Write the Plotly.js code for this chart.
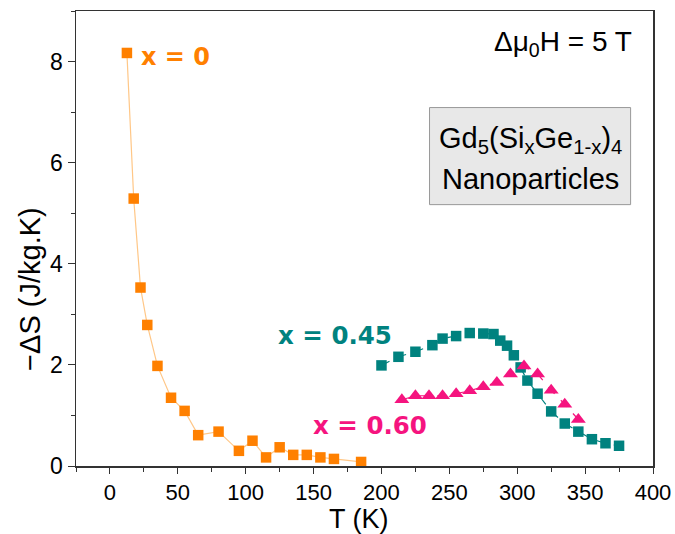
<!DOCTYPE html>
<html>
<head>
<meta charset="utf-8">
<script src="https://cdn.plot.ly/plotly-3.0.1.min.js"></script>
<style>html,body{margin:0;padding:0;background:#fff;}#chart{width:675px;height:534px;}</style>
</head>
<body>
<div id="chart"></div>
<script>
// x = 0
var T0 = [12.5, 17.5, 22.5, 27.5, 35, 45, 55, 65, 80, 95, 105, 115, 125, 135, 145, 155, 165, 185];
var S0 = [8.17, 5.29, 3.53, 2.79, 1.98, 1.35, 1.09, 0.61, 0.68, 0.30, 0.50, 0.17, 0.37, 0.22, 0.22, 0.17, 0.14, 0.08];
// x = 0.45
var T45 = [200, 212.5, 225, 237.5, 245, 255, 265, 275, 282.5, 287.5, 292.5, 297.5, 302.5, 307.5, 315, 325, 335, 345, 355, 365, 375];
var S45 = [1.99, 2.16, 2.26, 2.39, 2.52, 2.57, 2.63, 2.62, 2.61, 2.48, 2.38, 2.19, 1.95, 1.69, 1.43, 1.08, 0.84, 0.68, 0.53, 0.45, 0.40];
// x = 0.60
var T60 = [215, 225, 235, 245, 255, 265, 275, 285, 295, 305, 315, 325, 335, 345];
var S60 = [1.31, 1.39, 1.39, 1.39, 1.43, 1.49, 1.57, 1.65, 1.82, 1.98, 1.82, 1.50, 1.22, 0.92];

var xTicks = [0, 50, 100, 150, 200, 250, 300, 350, 400];
var yTicks = [0, 2, 4, 6, 8];

var cOrange = '#FF8000', cTeal = '#00827F', cPink = '#F5147F';

var traces = [
  {x: T0, y: S0, mode: 'lines+markers', type: 'scatter',
   line: {color: '#FFC787', width: 1.2},
   marker: {symbol: 'square', size: 10.5, color: cOrange}},
  {x: T45, y: S45, mode: 'lines+markers', type: 'scatter',
   line: {color: cTeal, width: 1.2, dash: 'dash'},
   marker: {symbol: 'square', size: 10.5, color: cTeal}},
  {x: T60, y: S60, mode: 'lines+markers', type: 'scatter',
   line: {color: cPink, width: 1.2, dash: 'dash'},
   marker: {symbol: 'triangle-up', size: 13, color: cPink}}
];

var sans = 'Liberation Sans, Arial, sans-serif';
var bold = 'DejaVu Sans, Verdana, sans-serif';

var layout = {
  width: 675, height: 534,
  margin: {l: 76, r: 22, t: 11, b: 68},
  paper_bgcolor: '#fff', plot_bgcolor: '#fff',
  showlegend: false,
  font: {family: sans, color: '#000'},
  xaxis: {
    range: [-25, 400], tickvals: xTicks, ticktext: xTicks.map(String),
    ticks: 'outside', ticklen: 6, tickwidth: 1, tickcolor: '#333',
    minor: {dtick: 25, tick0: 0, ticks: 'outside', ticklen: 4, tickwidth: 1, tickcolor: '#333'},
    showline: true, linecolor: '#333', linewidth: 1.5, mirror: true,
    showgrid: false, zeroline: false,
    tickfont: {size: 22, family: sans, color: '#000'}
  },
  yaxis: {
    range: [0, 9], tickvals: yTicks, ticktext: yTicks.map(String),
    ticks: 'outside', ticklen: 7, tickwidth: 1, tickcolor: '#333',
    minor: {dtick: 1, tick0: 0, ticks: 'outside', ticklen: 4, tickwidth: 1, tickcolor: '#333'},
    showline: true, linecolor: '#333', linewidth: 1.5, mirror: true,
    showgrid: false, zeroline: false,
    tickfont: {size: 23, family: sans, color: '#000'}
  },
  shapes: [
    {type: 'rect', xref: 'x', yref: 'y', x0: 235.4, x1: 383.5, y0: 5.17, y1: 7.09,
     fillcolor: '#E8E8E8', line: {color: '#999', width: 1}, layer: 'below'}
  ],
  annotations: [
    {x: 0.49, y: 0, xref: 'paper', yref: 'paper', xanchor: 'center', yanchor: 'top', yshift: -36,
     text: 'T (K)', showarrow: false,
     font: {size: 27, family: sans, color: '#000'}},
    {x: -0.08, y: 3.5, xref: 'paper', yref: 'y', xanchor: 'center', yanchor: 'middle', textangle: -90,
     text: '\u2212\u0394S (J/kg.K)', showarrow: false,
     font: {size: 29, family: sans, color: '#000'}},
    {x: 48, y: 8.10, xref: 'x', yref: 'y', text: '<b>x = 0</b>', showarrow: false,
     font: {size: 24, family: bold, color: cOrange}},
    {x: 166, y: 2.58, xref: 'x', yref: 'y', text: '<b>x = 0.45</b>', showarrow: false,
     font: {size: 24.5, family: bold, color: cTeal}},
    {x: 191.5, y: 0.81, xref: 'x', yref: 'y', text: '<b>x = 0.60</b>', showarrow: false,
     font: {size: 24.5, family: bold, color: cPink}},
    {x: 386, y: 8.36, xref: 'x', yref: 'y', xanchor: 'right', text: '\u0394\u03bc<sub>0</sub>H = 5 T', showarrow: false,
     font: {size: 28, family: sans, color: '#000'}},
    {x: 309.4, y: 6.45, xref: 'x', yref: 'y', text: 'Gd<sub>5</sub>(Si<sub>x</sub>Ge<sub>1-x</sub>)<sub>4</sub>', showarrow: false,
     font: {size: 29, family: sans, color: '#000'}},
    {x: 309.4, y: 5.68, xref: 'x', yref: 'y', text: 'Nanoparticles', showarrow: false,
     font: {size: 29, family: sans, color: '#000'}}
  ]
};

Plotly.newPlot('chart', traces, layout, {displayModeBar: false, staticPlot: true});
</script>
</body>
</html>
